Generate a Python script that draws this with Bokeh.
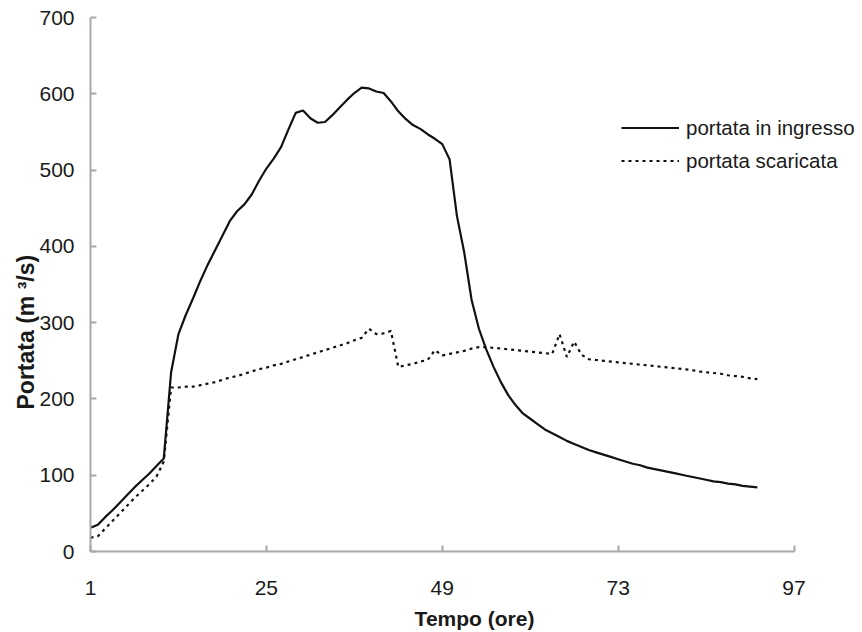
from bokeh.plotting import figure
from bokeh.models import Range1d, FixedTicker, Legend, LegendItem, Title
from bokeh.embed import file_html
from bokeh.resources import INLINE

# ---- data ----
hours = list(range(1, 93))
portata_ingresso = [31, 35, 45, 54, 64, 74, 84, 93, 102, 112, 122,
                    235, 285, 310, 332, 355, 376, 395, 414, 433, 446, 455, 468, 486, 502, 515, 530, 553, 575, 578,
                    568, 562, 563, 572, 582, 592, 601, 608, 607, 603,
                    601, 590, 577, 567, 559, 554, 547, 541, 534, 514,
                    440, 392, 330, 292, 265, 242, 222, 205, 192, 181,
                    174, 167, 160, 155, 150, 145, 141, 137, 133, 130,
                    127, 124, 121, 118, 115, 113, 110, 108, 106, 104,
                    102, 100, 98, 96, 94, 92, 91, 89, 88, 86,
                    85, 84]
portata_scaricata = [18, 20, 30, 40, 50, 60, 70, 79, 88, 98, 118,
                     215, 215, 216, 216, 218, 220, 222, 225, 228,
                     230, 233, 236, 239, 241, 244, 246, 249, 252, 255,
                     258, 261, 264, 267, 270, 273, 277, 280, 292, 285,
                     286, 289, 242, 244, 246, 249, 251, 264, 257, 259,
                     261, 263, 266, 268, 268, 267, 266, 265, 264, 263,
                     262, 261, 260, 259, 285, 255, 275, 258, 252, 251,
                     250, 249, 248, 247, 246, 245, 244, 243, 242, 241,
                     240, 239, 238, 236, 235, 234, 233, 231, 230, 229,
                     227, 226]
x_ticks = [1, 25, 49, 73, 97]
y_ticks = [0, 100, 200, 300, 400, 500, 600, 700]
series_labels = ["portata in ingresso", "portata scaricata"]
x_title = "Tempo (ore)"
y_title = "Portata (m ³/s)"

FONT = "Liberation Sans"
AXIS_COL = "#a8a8a8"
TEXT_COL = "#1a1a1a"

# frame extends to the right edge so that the legend fits; axis line stops at 97
X_START, X_AXIS_END, X_VIEW_END = 1, 97, 105.8

p = figure(width=858, height=632, output_backend="svg", toolbar_location=None,
           x_range=Range1d(X_START, X_VIEW_END), y_range=Range1d(0, 700),
           min_border_left=90, min_border_right=0, min_border_top=17, min_border_bottom=81)
p.outline_line_color = None
p.xgrid.visible = False
p.ygrid.visible = False
p.background_fill_color = "white"
p.border_fill_color = "white"

r1 = p.line(hours, portata_ingresso, line_color="#111111", line_width=2.2)
r2 = p.line(hours, portata_scaricata, line_color="#111111", line_width=2.2, line_dash="3 4")

for ax in (p.xaxis[0], p.yaxis[0]):
    ax.axis_line_color = AXIS_COL
    ax.axis_line_width = 2
    ax.major_tick_line_color = AXIS_COL
    ax.major_tick_line_width = 2
    ax.major_tick_in = 6
    ax.major_tick_out = 0
    ax.minor_tick_line_color = None
    ax.major_label_text_font = FONT
    ax.major_label_text_font_size = "21px"
    ax.major_label_text_color = TEXT_COL
    ax.axis_label_text_font = FONT
    ax.axis_label_text_font_size = "21px"
    ax.axis_label_text_font_style = "bold"
    ax.axis_label_text_color = TEXT_COL

p.xaxis.bounds = (X_START, X_AXIS_END)
p.xaxis.ticker = FixedTicker(ticks=x_ticks)
p.yaxis.ticker = FixedTicker(ticks=y_ticks)
p.xaxis.axis_label = x_title
p.xaxis.major_label_standoff = 29
p.xaxis.axis_label_standoff = 9
p.yaxis.major_label_standoff = 16

# y-axis title as a side title so that it can be shifted down like the reference
ytitle = Title(text=y_title, align="left", offset=142, standoff=-4,
               text_font=FONT, text_font_size="23px", text_font_style="bold",
               text_color=TEXT_COL)
p.add_layout(ytitle, "left")

legend = Legend(items=[LegendItem(label=series_labels[0], renderers=[r1]),
                       LegendItem(label=series_labels[1], renderers=[r2])],
                location=(531, 374), orientation="vertical",
                border_line_color=None, background_fill_alpha=0,
                padding=0, margin=0, spacing=0,
                label_height=33, glyph_height=33, glyph_width=58, label_standoff=7,
                label_text_font=FONT, label_text_font_size="20.5px", label_text_color=TEXT_COL)
p.add_layout(legend, "center")

open("out.html", "w").write(file_html(p, INLINE))
